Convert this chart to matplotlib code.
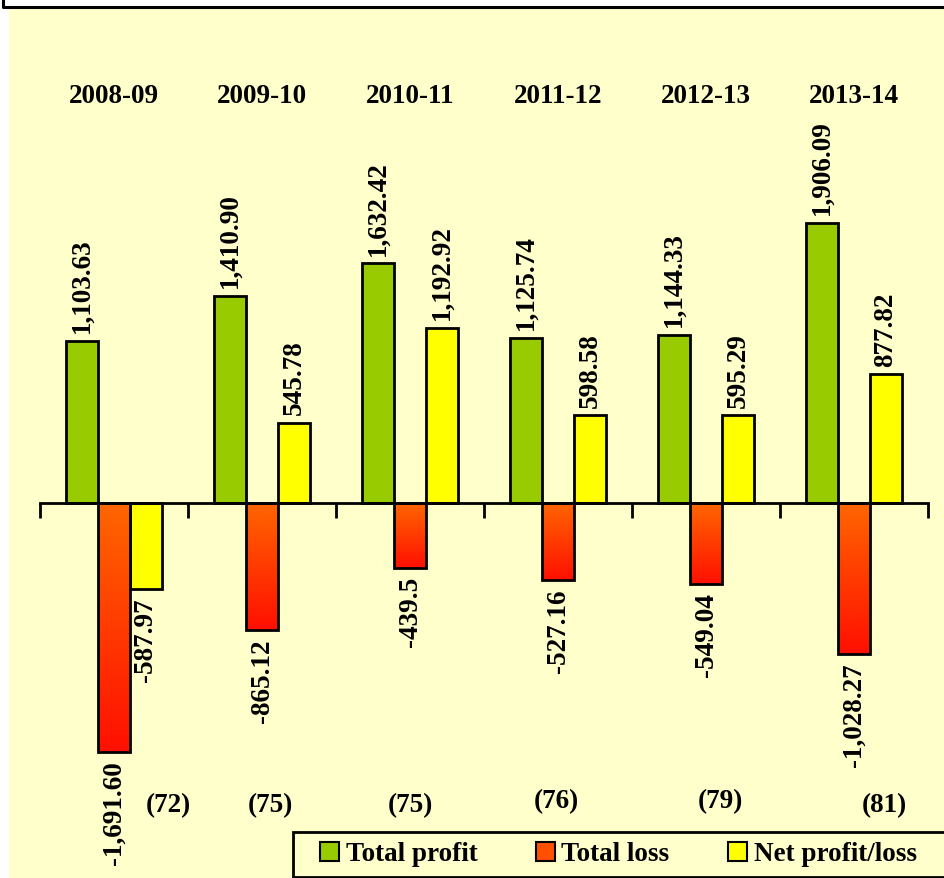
import numpy as np
import matplotlib
matplotlib.use("Agg")
import matplotlib.pyplot as plt
from matplotlib.patches import Rectangle, Patch
from matplotlib.lines import Line2D
import matplotlib.transforms as mtrans

## Data
years = ["2008-09", "2009-10", "2010-11", "2011-12", "2012-13", "2013-14"]
total_profit = [1103.63, 1410.90, 1632.42, 1125.74, 1144.33, 1906.09]
total_loss = [-1691.60, -865.12, -439.5, -527.16, -549.04, -1028.27]
net_profit = [-587.97, 545.78, 1192.92, 598.58, 595.29, 877.82]
profit_labels = ["1,103.63", "1,410.90", "1,632.42", "1,125.74", "1,144.33", "1,906.09"]
loss_labels = ["-1,691.60", "-865.12", "-439.5", "-527.16", "-549.04", "-1,028.27"]
net_labels = ["-587.97", "545.78", "1,192.92", "598.58", "595.29", "877.82"]
company_counts = ["(72)", "(75)", "(75)", "(76)", "(79)", "(81)"]

# layout only: where the counts sit relative to each group
count_xoff = [0.365, 0.054, 0.0, -0.014, 0.095, 0.203]
count_ypos = [0.085, 0.085, 0.085, 0.089, 0.089, 0.085]

## Style
W, H = 944, 879
BG = "#FFFFCC"
GREEN = "#99CC00"
YELLOW = "#FFFF00"
FS = 19.5
FONT = dict(family="Liberation Serif", weight="bold", size=FS)

fig = plt.figure(figsize=(W / 100, H / 100), dpi=100)
fig.patch.set_facecolor("white")

# yellow chart area + cut-off frame at top
fig.patches.append(Rectangle((9 / W, 0), 1, (H - 10) / H, transform=fig.transFigure,
                             facecolor=BG, edgecolor="none", zorder=-10))
fig.lines.append(Line2D([3 / W, 3 / W, 1], [1, 1 - 8 / H, 1 - 8 / H], transform=fig.transFigure,
                        color="black", lw=2.2, zorder=1))

ax = fig.add_axes([40 / W, 0, 888 / W, (H - 10) / H])
ax.set_facecolor("none")
ax.set_zorder(2)

x = np.arange(len(years))
bw = 0.216

b_profit = ax.bar(x - bw, total_profit, bw, color=GREEN, edgecolor="black", lw=2, zorder=3)
b_loss = ax.bar(x, total_loss, bw, color="none", edgecolor="black", lw=2, zorder=4)
b_net = ax.bar(x + bw, net_profit, bw, color=YELLOW, edgecolor="black", lw=2, zorder=3)

# orange -> red gradient in the loss bars
grad = np.linspace(0, 1, 256).reshape(-1, 1)
top_c = np.array([1.0, 0.40, 0.0])
bot_c = np.array([1.0, 0.06, 0.0])
img = top_c + (bot_c - top_c) * grad[..., None]
for rect in b_loss:
    x0 = rect.get_x()
    im = ax.imshow(img, extent=[x0, x0 + rect.get_width(), rect.get_y() + rect.get_height(), rect.get_y()],
                   aspect="auto", zorder=2, origin="upper")
    im.set_clip_path(rect)

ax.set_xlim(-0.5, 5.5)
px_per_unit = 0.147
ax.set_ylim(-(H - 504) / px_per_unit, (504 - 10) / px_per_unit)

# axis at zero with ticks between groups
for s in ["left", "right", "top"]:
    ax.spines[s].set_visible(False)
ax.spines["bottom"].set_position(("data", 0))
ax.spines["bottom"].set_linewidth(2)
ax.spines["bottom"].set_zorder(5)
ax.set_xticks(np.arange(-0.5, 6, 1))
ax.set_xticklabels([])
ax.tick_params(axis="x", direction="out", length=11, width=2)
ax.set_yticks([])

# value labels
def label_bars(bars, labels):
    for rect, lab in zip(bars, labels):
        h = rect.get_height()
        xc = rect.get_x() + rect.get_width() / 2
        if h >= 0:
            ax.annotate(lab, (xc, h), xytext=(0, 6), textcoords="offset points",
                        rotation=90, ha="center", va="bottom", **FONT)
        else:
            ax.annotate(lab, (xc, h), xytext=(0, -6), textcoords="offset points",
                        rotation=90, ha="center", va="top", **FONT)

label_bars(b_profit, profit_labels)
label_bars(b_loss, loss_labels)
label_bars(b_net, net_labels)

# year headings and company counts
trans = mtrans.blended_transform_factory(ax.transData, ax.transAxes)
for i, yr in enumerate(years):
    ax.text(i, 0.900, yr, transform=trans, ha="center", va="center", **FONT)
    ax.text(i + count_xoff[i], count_ypos[i], company_counts[i], transform=trans,
            ha="center", va="center", **FONT)

# legend with cut-off frame
fig.patches.append(Rectangle((293 / W, 1 / H), 1, (877 - 832) / H, transform=fig.transFigure,
                             facecolor=BG, edgecolor="black", lw=2, zorder=6))
handles = [Patch(facecolor=GREEN, edgecolor="black", lw=1.5),
           Patch(facecolor="#FF5000", edgecolor="black", lw=1.5),
           Patch(facecolor=YELLOW, edgecolor="black", lw=1.5)]
leg = fig.legend(handles, ["Total profit", "Total loss", "Net profit/loss"],
                 loc="center left", bbox_to_anchor=(320 / W, 1 - 855 / H), ncol=3,
                 frameon=False, prop=dict(family="Liberation Serif", weight="bold", size=FS),
                 handlelength=0.7, handleheight=0.7, handletextpad=0.25, columnspacing=2.15,
                 borderpad=0, borderaxespad=0)
leg.set_zorder(7)

fig.savefig("out.png", dpi=100, facecolor=fig.get_facecolor())
